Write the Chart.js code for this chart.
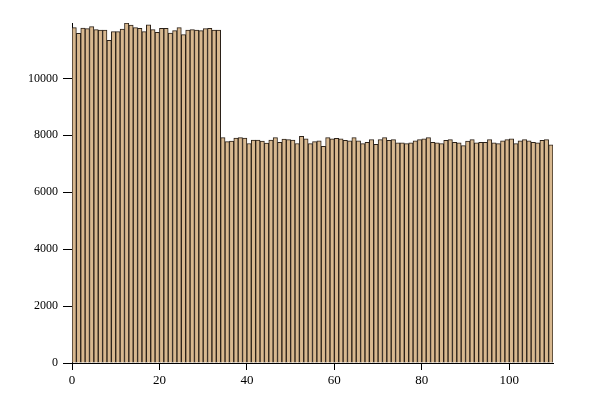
<!DOCTYPE html>
<html>
<head>
<meta charset="utf-8">
<script src="https://cdn.jsdelivr.net/npm/chart.js@4/dist/chart.umd.min.js"></script>
<style>
  html, body { margin: 0; padding: 0; background: #fff; }
  #wrap { width: 600px; height: 400px; }
</style>
</head>
<body>
<div id="wrap"><canvas id="myChart"></canvas></div>
<script>
// bin counts, one bar per unit bin [i, i+1)
var counts = [
  11780, 11580, 11770, 11745, 11815, 11710, 11700, 11700, 11335, 11640,
  11640, 11735, 11945, 11875, 11780, 11755, 11640, 11885, 11710, 11615,
  11755, 11755, 11590, 11675, 11780, 11535, 11700, 11710, 11700, 11675,
  11745, 11755, 11700, 11700, 7920, 7780, 7800, 7900, 7920, 7900,
  7710, 7830, 7830, 7800, 7730, 7830, 7920, 7755, 7870, 7850,
  7830, 7710, 7960, 7873, 7709, 7779, 7803, 7615, 7920, 7873,
  7897, 7873, 7826, 7803, 7920, 7803, 7709, 7756, 7850, 7685,
  7850, 7920, 7826, 7850, 7732, 7732, 7709, 7732, 7803, 7850,
  7873, 7920, 7756, 7732, 7709, 7826, 7850, 7756, 7732, 7638,
  7800, 7850, 7732, 7756, 7756, 7850, 7732, 7709, 7803, 7850,
  7873, 7709, 7803, 7850, 7803, 7756, 7732, 7826, 7850, 7662
];
var xTicks = [0, 20, 40, 60, 80, 100];
var yTicks = [0, 2000, 4000, 6000, 8000, 10000];

var points = [];
counts.forEach(function (valor, indice) {
  points.push({ x: indice + 0.5, y: valor });
});

var ctx = document.getElementById('myChart');
new Chart(ctx, {
  type: 'bar',
  data: {
    datasets: [{
      data: points,
      backgroundColor: '#d8b88f',
      borderColor: '#2b2118',
      borderWidth: 1,
      barPercentage: 1,
      categoryPercentage: 1
    }]
  },
  options: {
    responsive: true,
    maintainAspectRatio: false,
    animation: false,
    layout: { padding: { top: 23, right: 47, left: 0, bottom: 0 } },
    plugins: { legend: { display: false }, tooltip: { enabled: false } },
    scales: {
      x: {
        type: 'linear',
        min: 0,
        max: counts.length,
        offset: false,
        afterFit: function (scale) { scale.height = 37; },
        afterBuildTicks: function (scale) {
          scale.ticks = xTicks.map(function (v) { return { value: v }; });
        },
        border: { display: true, color: '#000', width: 1 },
        grid: { display: true, offset: false, drawOnChartArea: false, drawTicks: true, tickLength: 7, color: '#000' },
        ticks: {
          color: '#000',
          padding: 3,
          maxRotation: 0,
          callback: function (v) { return String(v); },
          font: { family: 'Liberation Serif', size: 13 }
        }
      },
      y: {
        min: 0,
        max: Math.max.apply(null, counts),
        afterFit: function (scale) { scale.width = 72; },
        afterBuildTicks: function (scale) {
          scale.ticks = yTicks.map(function (v) { return { value: v }; });
        },
        border: { display: true, color: '#000', width: 1 },
        grid: { display: true, drawOnChartArea: false, drawTicks: true, tickLength: 9, color: '#000' },
        ticks: {
          color: '#000',
          padding: 5,
          callback: function (v) { return String(v); },
          font: { family: 'Liberation Serif', size: 12 }
        }
      }
    }
  }
});
</script>
</body>
</html>
